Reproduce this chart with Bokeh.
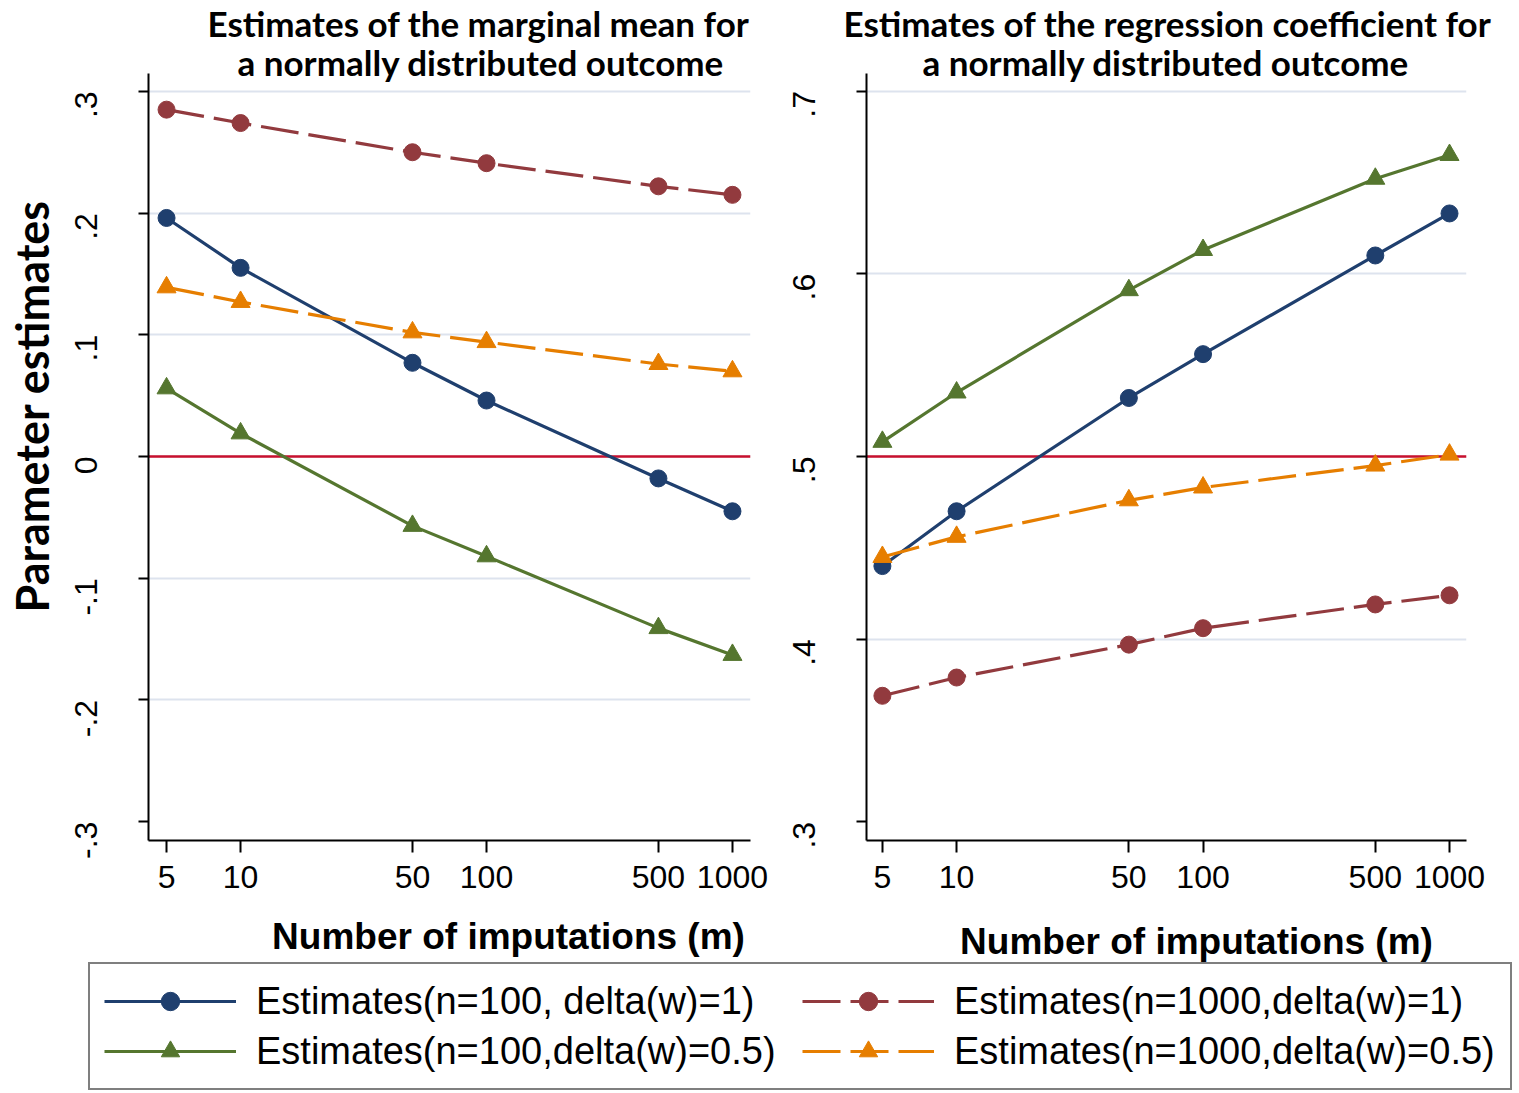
import math

from bokeh.embed import file_html
from bokeh.layouts import column, row
from bokeh.models import (CustomJSTickFormatter, FixedTicker, Label, Legend,
                          LegendItem, Range1d, Span, Title)
from bokeh.plotting import figure
from bokeh.resources import INLINE

# Number of imputations
m_values = [5, 10, 50, 100, 500, 1000]

# Marginal mean estimates
mean_n100_d1 = [0.196, 0.155, 0.077, 0.046, -0.018, -0.045]
mean_n1000_d1 = [0.285, 0.274, 0.250, 0.241, 0.222, 0.215]
mean_n100_d05 = [0.056, 0.019, -0.057, -0.082, -0.141, -0.163]
mean_n1000_d05 = [0.139, 0.127, 0.102, 0.094, 0.076, 0.070]

# Regression coefficient estimates
coef_n100_d1 = [0.440, 0.470, 0.532, 0.556, 0.610, 0.633]
coef_n1000_d1 = [0.369, 0.379, 0.397, 0.406, 0.419, 0.424]
coef_n100_d05 = [0.508, 0.535, 0.591, 0.613, 0.652, 0.665]
coef_n1000_d05 = [0.445, 0.456, 0.476, 0.483, 0.495, 0.501]

# Axes
x_ticks = [5, 10, 50, 100, 500, 1000]
mean_ticks = [-0.3, -0.2, -0.1, 0.0, 0.1, 0.2, 0.3]
coef_ticks = [0.3, 0.4, 0.5, 0.6, 0.7]
mean_true = 0.0
coef_true = 0.5

series_labels = [
    "Estimates(n=100, delta(w)=1)",
    "Estimates(n=100,delta(w)=0.5)",
    "Estimates(n=1000,delta(w)=1)",
    "Estimates(n=1000,delta(w)=0.5)",
]
x_title = "Number of imputations (m)"

NAVY = "#1f3f6e"
MAROON = "#923a3e"
GREEN = "#55762f"
ORANGE = "#e67e00"

styles = [
    dict(color=NAVY, marker="circle", dash="solid", size=17),
    dict(color=GREEN, marker="triangle", dash="solid", size=19),
    dict(color=MAROON, marker="circle", dash="dashed", size=17),
    dict(color=ORANGE, marker="triangle", dash="dashed", size=19),
]
DASH = "38 10"
LINE_W = 3.2

TICK_FONT = "Liberation Sans"
TITLE_FONT = "Lato"
PANEL_H = 904

y_formatter_code = """
if (Math.abs(tick) < 1e-9) { return "0"; }
return tick.toFixed(1).replace("0.", ".");
"""


def draw_series(p, ys, st):
    dash = DASH if st["dash"] == "dashed" else "solid"
    r_line = p.line(m_values, ys, line_color=st["color"], line_width=LINE_W,
                    line_dash=dash)
    r_mark = p.scatter(m_values, ys, marker=st["marker"], size=st["size"],
                       fill_color=st["color"], line_color=st["color"])
    return r_line, r_mark


def make_panel(width, border_left, border_right, x_range, y_range, y_ticks,
               ref_value, series, title_lines, title_offsets, ylabel=None):
    p = figure(width=width, height=PANEL_H, x_axis_type="log",
               x_range=x_range, y_range=y_range,
               output_backend="svg", toolbar_location=None,
               min_border_left=border_left, min_border_right=border_right,
               min_border_top=73, min_border_bottom=64)
    p.outline_line_color = None
    p.background_fill_color = "white"
    p.border_fill_color = "white"

    p.xgrid.visible = False
    p.ygrid.ticker = FixedTicker(ticks=y_ticks[1:])
    p.ygrid.grid_line_color = "#dde3ee"
    p.ygrid.grid_line_width = 2

    xa = p.xaxis[0]
    xa.ticker = FixedTicker(ticks=x_ticks)
    xa.formatter = CustomJSTickFormatter(code="return tick.toFixed(0);")
    xa.major_label_text_font = TICK_FONT
    xa.major_label_text_font_size = "32px"
    xa.major_label_text_color = "black"
    xa.major_label_standoff = 13
    xa.major_tick_out = 12
    xa.major_tick_in = 0
    xa.minor_tick_line_color = None
    xa.axis_line_width = 2
    xa.major_tick_line_width = 2

    ya = p.yaxis[0]
    ya.ticker = FixedTicker(ticks=y_ticks)
    ya.formatter = CustomJSTickFormatter(code=y_formatter_code)
    ya.major_label_orientation = math.pi / 2
    ya.major_label_text_font = TICK_FONT
    ya.major_label_text_font_size = "32px"
    ya.major_label_text_color = "black"
    ya.major_label_standoff = 52
    ya.major_tick_out = 10
    ya.major_tick_in = 0
    ya.minor_tick_line_color = None
    ya.axis_line_width = 2
    ya.major_tick_line_width = 2

    ref = Span(location=ref_value, dimension="width", line_color="#c8102e",
               line_width=2.5, level="underlay")
    p.add_layout(ref)

    handles = []
    for ys, st in zip(series, styles):
        handles.append(draw_series(p, ys, st))

    # two-line title; the second line hangs close to the frame
    line1, line2 = title_lines
    off1, off2 = title_offsets
    p.add_layout(Title(text=line2, align="left", offset=off2, standoff=-18,
                       vertical_align="bottom",
                       text_font=TITLE_FONT, text_font_style="bold",
                       text_font_size="35px", text_color="black"), "above")
    p.add_layout(Title(text=line1, align="left", offset=off1, standoff=3,
                       vertical_align="top",
                       text_font=TITLE_FONT, text_font_style="bold",
                       text_font_size="35px", text_color="black"), "above")

    if ylabel is not None:
        p.add_layout(Title(text=ylabel, align="left", offset=228, standoff=5,
                           text_font=TITLE_FONT, text_font_style="bold",
                           text_font_size="45px", text_color="black"), "left")
    return p, handles


p1, _ = make_panel(
    772, 148, 22, (4.223, 1184), (-0.3155, 0.3147), mean_ticks, mean_true,
    [mean_n100_d1, mean_n100_d05, mean_n1000_d1, mean_n1000_d05],
    ["Estimates of the marginal mean for", "a normally distributed outcome"],
    [59, 89], ylabel="Parameter estimates")

p2, _ = make_panel(
    747, 94, 53, (4.31, 1172), (0.2898, 0.7096), coef_ticks, coef_true,
    [coef_n100_d1, coef_n100_d05, coef_n1000_d1, coef_n1000_d05],
    ["Estimates of the regression coefficient for",
     "a normally distributed outcome"],
    [-23, 56])

# Bottom strip: x-axis titles of both panels and the shared legend.
# The legend's glyphs fall outside the strip's visible range.
strip_h = 1093 - PANEL_H
leg = figure(width=1519, height=strip_h, output_backend="svg",
             toolbar_location=None, min_border=0,
             x_range=Range1d(0, 1), y_range=Range1d(0, 1),
             x_axis_location=None, y_axis_location=None)
leg.outline_line_color = None
leg.grid.visible = False

for cx, sy in [(508, 157), (1196, 152)]:
    leg.add_layout(Label(x=cx, y=sy, x_units="screen",
                         y_units="screen", text=x_title,
                         text_font=TICK_FONT, text_font_style="bold",
                         text_font_size="37px", text_align="center",
                         text_baseline="alphabetic", text_color="black"))

items = []
for lab, ys, st in zip(series_labels,
                       [mean_n100_d1, mean_n100_d05, mean_n1000_d1,
                        mean_n1000_d05], styles):
    rl, rm = draw_series(leg, ys, st)
    items.append(LegendItem(label=lab, renderers=[rl, rm]))

legend = Legend(items=items, location=(88, 3), orientation="vertical",
                ncols=2, border_line_color="black", border_line_width=2,
                padding=14, spacing=4, margin=0,
                glyph_width=132, glyph_height=46, label_height=44,
                label_width=542, label_standoff=20,
                label_text_font=TICK_FONT, label_text_font_size="38px",
                label_text_color="black",
                background_fill_color="white", background_fill_alpha=1.0)
leg.add_layout(legend, "center")

layout = column(row(p1, p2), leg)

open("out.html", "w").write(file_html(layout, INLINE))
